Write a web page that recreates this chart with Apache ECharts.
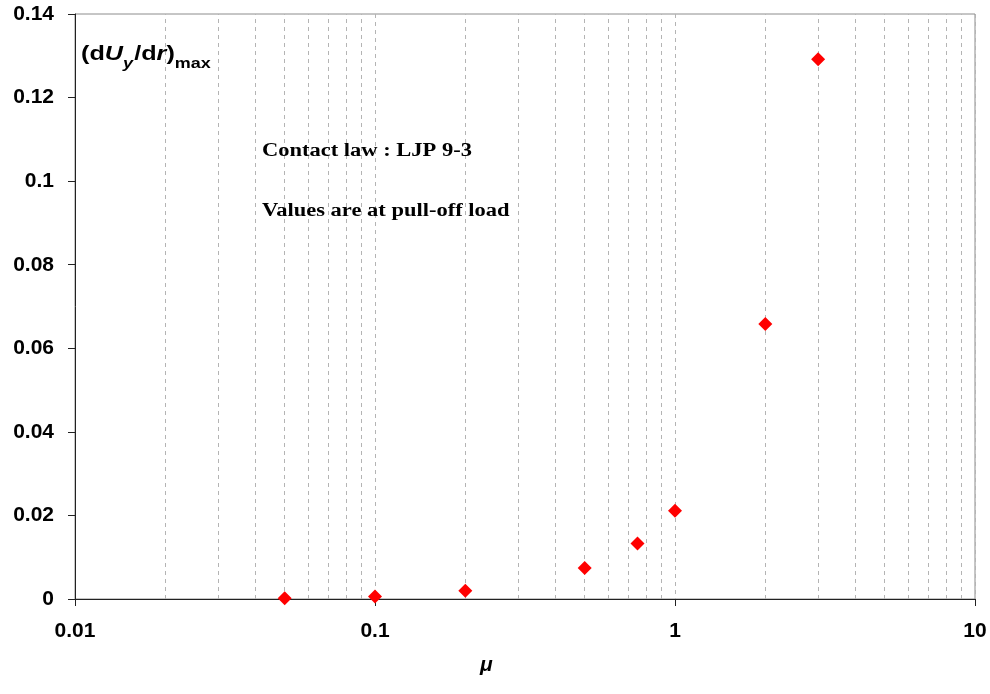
<!DOCTYPE html>
<html>
<head>
<meta charset="utf-8">
<script src="https://cdn.jsdelivr.net/npm/echarts@6/dist/echarts.min.js"></script>
<style>html,body{margin:0;padding:0;background:#fff}#chart{width:990px;height:694px}</style>
</head>
<body>
<div id="chart"></div>
<script>
// Friction coefficient mu and the maximum slope (dUy/dr)max at pull-off load
const muValues = [0.05, 0.1, 0.2, 0.5, 0.75, 1, 2, 3];
const slopeMax = [0.0002, 0.0006, 0.002, 0.0074, 0.0133, 0.0211, 0.0658, 0.1292];

// Minor gridline positions within each decade of the log axis
const minorGrid = [0.02, 0.03, 0.04, 0.05, 0.06, 0.07, 0.08, 0.09,
                   0.2, 0.3, 0.4, 0.5, 0.6, 0.7, 0.8, 0.9,
                   2, 3, 4, 5, 6, 7, 8, 9];

const axisFont = 'Liberation Sans, Arial, sans-serif';
const serifFont = 'Liberation Serif, Times New Roman, serif';
const dashStyle = { color: '#b4b4b4', type: [4, 4], width: 1 };

const chart = echarts.init(document.getElementById('chart'), null, { renderer: 'canvas' });

chart.setOption({
  backgroundColor: '#ffffff',
  animation: false,
  grid: {
    left: 75, right: 15, top: 14, bottom: 95,
    show: true, borderColor: '#8c8c8c', borderWidth: 1, backgroundColor: 'transparent'
  },
  xAxis: {
    type: 'log', logBase: 10, min: 0.01, max: 10,
    axisLine: { show: true, onZero: false, lineStyle: { color: '#222', width: 1 } },
    axisTick: { show: true, inside: false, length: 7, lineStyle: { color: '#222' } },
    axisLabel: {
      margin: 22, fontFamily: axisFont, fontWeight: 'bold', fontSize: 21, color: '#000',
      formatter: v => String(parseFloat(v.toPrecision(6)))
    },
    splitLine: { show: true, lineStyle: dashStyle },
    minorTick: { show: false }
  },
  yAxis: {
    type: 'value', min: 0, max: 0.14, interval: 0.02,
    axisLine: { show: true, lineStyle: { color: '#222', width: 1 } },
    axisTick: { show: true, inside: false, length: 7, lineStyle: { color: '#222' } },
    axisLabel: {
      margin: 21, fontFamily: axisFont, fontWeight: 'bold', fontSize: 21, color: '#000',
      formatter: v => String(parseFloat(v.toFixed(4)))
    },
    splitLine: { show: false }
  },
  series: [
    {
      type: 'scatter',
      data: muValues.map((m, i) => [m, slopeMax[i]]),
      symbol: 'diamond',
      symbolSize: [14, 14],
      itemStyle: { color: '#ff0000', opacity: 1 },
      z: 5,
      markLine: {
        silent: true,
        symbol: ['none', 'none'],
        label: { show: false },
        lineStyle: dashStyle,
        emphasis: { disabled: true },
        animation: false,
        data: minorGrid.map(v => ({ xAxis: v }))
      }
    }
  ],
  graphic: [
    {
      type: 'text', x: 81, y: 44, scaleX: 1.2, z: 10,
      style: {
        text: '{n|(d}{i|U}{s|y}{n|/d}{i|r}{n|)}{m|max}',
        rich: {
          n: { fontFamily: axisFont, fontWeight: 'bold', fontSize: 21, fill: '#000', padding: [0, 0, 6, 0], verticalAlign: 'bottom' },
          i: { fontFamily: axisFont, fontWeight: 'bold', fontStyle: 'italic', fontSize: 21, fill: '#000', padding: [0, 0, 6, 0], verticalAlign: 'bottom' },
          s: { fontFamily: axisFont, fontWeight: 'bold', fontStyle: 'italic', fontSize: 15, fill: '#000', padding: [0, 1, 0, 0], verticalAlign: 'bottom' },
          m: { fontFamily: axisFont, fontWeight: 'bold', fontSize: 15, fill: '#000', verticalAlign: 'bottom' }
        }
      }
    },
    {
      type: 'text', x: 262, y: 142, scaleX: 1.25, z: 10,
      style: { text: 'Contact law : LJP 9-3', fontFamily: serifFont, fontWeight: 'bold', fontSize: 18, fill: '#000' }
    },
    {
      type: 'text', x: 262, y: 202, scaleX: 1.25, z: 10,
      style: { text: 'Values are at pull-off load', fontFamily: serifFont, fontWeight: 'bold', fontSize: 18, fill: '#000' }
    },
    {
      type: 'text', x: 480, y: 655, z: 10,
      style: { text: 'μ', fontFamily: axisFont, fontWeight: 'bold', fontStyle: 'italic', fontSize: 21, fill: '#000' }
    }
  ]
});
</script>
</body>
</html>
